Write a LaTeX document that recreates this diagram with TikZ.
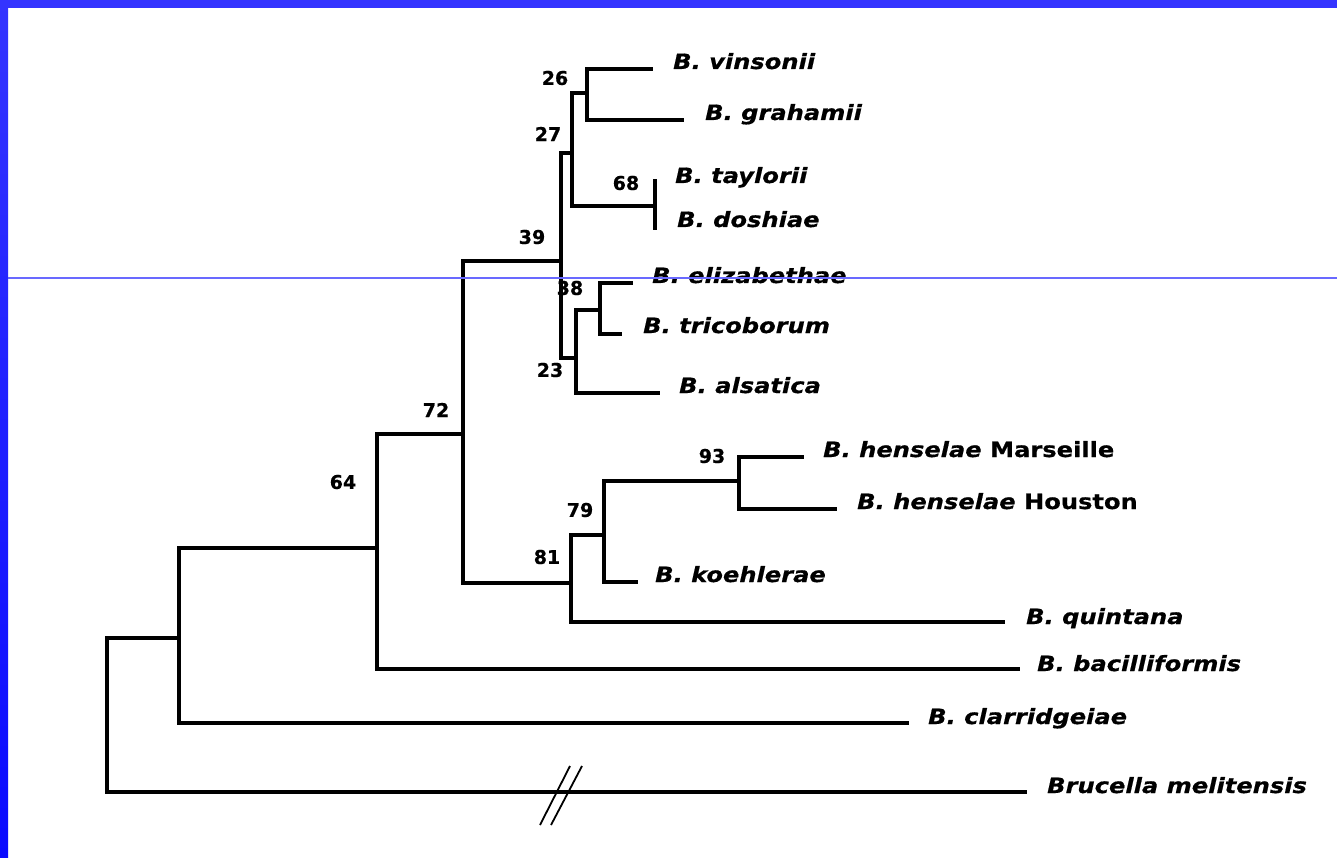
\documentclass[tikz,border=0pt]{standalone}
\usepackage{fontspec}
\newfontfamily\taxonfont[FakeStretch=1.15, FakeBold=0.6]{DejaVu Sans}
\newfontfamily\supportfont[FakeBold=0.6]{DejaVu Sans}
\definecolor{framebluetop}{RGB}{52,52,255}
\definecolor{frameblue}{RGB}{10,10,255}
\definecolor{guideblue}{RGB}{105,105,255}

\begin{document}
\begin{tikzpicture}[x=1pt,y=-1pt,
  branch/.style={line width=3.2pt, line join=miter},
  taxon/.style={anchor=base west, inner sep=0pt,
    font=\taxonfont\bfseries\itshape\fontsize{21}{25}\selectfont},
  support/.style={inner sep=0pt,
    font=\supportfont\bfseries\fontsize{19}{22}\selectfont},
  breakmark/.style={line width=1.8pt},
]
\useasboundingbox (0,0) rectangle (1337,858);
\fill[white] (0,0) rectangle (1337,858);

% slide frame
\shade[top color=framebluetop, bottom color=frameblue] (0,0) rectangle (8,858);
\fill[framebluetop] (0,0) rectangle (1337,8);

% internal nodes of the tree
\coordinate (root) at (107,715);
\coordinate (nC)   at (179,638);
\coordinate (n64)  at (377,548);
\coordinate (n72)  at (463,434);
\coordinate (n39)  at (561,261);
\coordinate (n27)  at (572,153);
\coordinate (n26)  at (587,93);
\coordinate (n68)  at (655,206);
\coordinate (n23)  at (576,358);
\coordinate (n38)  at (600,310);
\coordinate (n81)  at (571,583);
\coordinate (n79)  at (604,535);
\coordinate (n93)  at (739,481);

% leaf ends
\coordinate (vin) at (653,69);
\coordinate (gra) at (684,120);
\coordinate (tay) at (655,179);
\coordinate (dos) at (655,230);
\coordinate (eli) at (633,283);
\coordinate (tri) at (622,334);
\coordinate (als) at (660,393);
\coordinate (mar) at (804,457);
\coordinate (hou) at (837,509);
\coordinate (koe) at (638,582);
\coordinate (qui) at (1005,622);
\coordinate (bac) at (1020,669);
\coordinate (cla) at (909,723);
\coordinate (bru) at (1027,792);

% branches
\draw[branch] (root) |- (nC);  \draw[branch] (root) |- (bru);
\draw[branch] (nC)   |- (n64); \draw[branch] (nC)   |- (cla);
\draw[branch] (n64)  |- (n72); \draw[branch] (n64)  |- (bac);
\draw[branch] (n72)  |- (n39); \draw[branch] (n72)  |- (n81);
\draw[branch] (n39)  |- (n27); \draw[branch] (n39)  |- (n23);
\draw[branch] (n27)  |- (n26); \draw[branch] (n27)  |- (n68);
\draw[branch] (n26)  |- (vin); \draw[branch] (n26)  |- (gra);
\draw[branch] (n68)  |- (tay); \draw[branch] (n68)  |- (dos);
\draw[branch] (n23)  |- (n38); \draw[branch] (n23)  |- (als);
\draw[branch] (n38)  |- (eli); \draw[branch] (n38)  |- (tri);
\draw[branch] (n81)  |- (n79); \draw[branch] (n81)  |- (qui);
\draw[branch] (n79)  |- (n93); \draw[branch] (n79)  |- (koe);
\draw[branch] (n93)  |- (mar); \draw[branch] (n93)  |- (hou);

% break in the outgroup branch
\coordinate (brkA1) at (540,825); \coordinate (brkA2) at (570,766);
\coordinate (brkB1) at (551,825); \coordinate (brkB2) at (582,766);
\draw[breakmark] (brkA1) -- (brkA2);
\draw[breakmark] (brkB1) -- (brkB2);

% taxon names
\node[taxon] (Lvin) at (673,69)  {B. vinsonii};
\node[taxon] (Lgra) at (705,120) {B. grahamii};
\node[taxon] (Ltay) at (675,183) {B. taylorii};
\node[taxon] (Ldos) at (677,227) {B. doshiae};
\node[taxon] (Leli) at (652,283) {B. elizabethae};
\node[taxon] (Ltri) at (643,333) {B. tricoborum};
\node[taxon] (Lals) at (679,393) {B. alsatica};
\node[taxon] (Lmar) at (823,457) {B. henselae \upshape Marseille};
\node[taxon] (Lhou) at (857,509) {B. henselae \upshape Houston};
\node[taxon] (Lkoe) at (655,582) {B. koehlerae};
\node[taxon] (Lqui) at (1026,624) {B. quintana};
\node[taxon] (Lbac) at (1037,671) {B. bacilliformis};
\node[taxon] (Lcla) at (928,724) {B. clarridgeiae};
\node[taxon] (Lbru) at (1047,793) {Brucella melitensis};

% bootstrap values
\node[support] (s26) at (555,78)  {26};
\node[support] (s27) at (548,134) {27};
\node[support] (s68) at (626,183) {68};
\node[support] (s39) at (532,237) {39};
\node[support] (s38) at (570,288) {38};
\node[support] (s23) at (550,370) {23};
\node[support] (s72) at (436,410) {72};
\node[support] (s64) at (343,482) {64};
\node[support] (s93) at (712,456) {93};
\node[support] (s79) at (580,510) {79};
\node[support] (s81) at (547,557) {81};

% thin guide line across the slide
\coordinate (guideL) at (8,278);
\coordinate (guideR) at (1337,278);
\draw[guideblue, line width=1.2pt] (guideL) -- (guideR);
\end{tikzpicture}
\end{document}
